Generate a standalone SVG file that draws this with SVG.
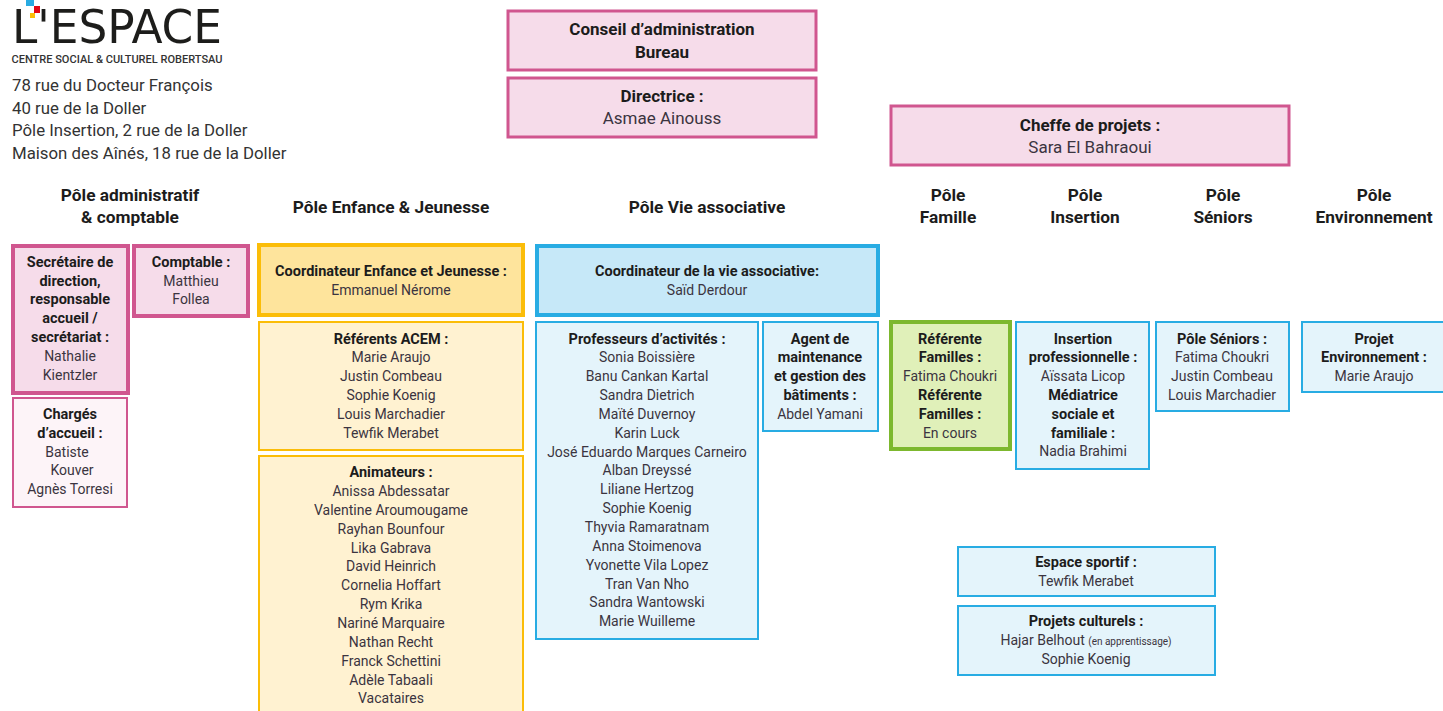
<svg xmlns="http://www.w3.org/2000/svg" width="1443" height="711" viewBox="0 0 1443 711">
<style>
text{font-family:Roboto,"Liberation Sans",sans-serif;text-anchor:middle;font-size:14px;fill:#3b3440}
.b{font-weight:bold;fill:#1c1c1c;font-size:14.5px}
.h{font-weight:bold;font-size:17.3px;fill:#1c1c1c}
.t{font-size:17px}
.addr{text-anchor:start;font-size:16.8px;fill:#333}
.pk{fill:#f6dcea;stroke:#d0568f;stroke-width:3}
.pkT{fill:#f6dcea;stroke:#d0568f;stroke-width:4}
.pkL{fill:#fdf4f8;stroke:#d0568f;stroke-width:2}
.orT{fill:#fee49c;stroke:#fbbd08;stroke-width:4}
.or{fill:#fff2d1;stroke:#fbbd08;stroke-width:2}
.blT{fill:#c6e8f8;stroke:#28ace3;stroke-width:4}
.bl{fill:#e4f4fb;stroke:#28ace3;stroke-width:2}
.gr{fill:#e0f0b9;stroke:#7db82e;stroke-width:4}
.sm{font-size:10px}
</style>
<rect width="1443" height="711" fill="#ffffff"/>
<g id="logo">
<text x="117" y="43" style="font-family:'DejaVu Sans Condensed','DejaVu Sans',sans-serif;font-size:46px;font-weight:normal;fill:#1d1d1b" textLength="210" lengthAdjust="spacingAndGlyphs">L'ESPACE</text>
<rect x="26" y="0" width="8" height="6" fill="#29abe2"/>
<rect x="34" y="6" width="6" height="7" fill="#e30613"/>
<rect x="30" y="13" width="5" height="5" fill="#fbbd08"/>
<text x="117" y="63" style="font-size:10.5px;fill:#333;font-weight:500" textLength="211" lengthAdjust="spacingAndGlyphs">CENTRE SOCIAL &amp; CULTUREL ROBERTSAU</text>
</g>
<g id="adresses">
<text class="addr" x="12" y="91">78 rue du Docteur François</text>
<text class="addr" x="12" y="114">40 rue de la Doller</text>
<text class="addr" x="12" y="136">Pôle Insertion, 2 rue de la Doller</text>
<text class="addr" x="12" y="159">Maison des Aînés, 18 rue de la Doller</text>
</g>
<g id="connectors"></g>
<g id="conseil">
<rect class="pk" x="508" y="11" width="308" height="59"/>
<text class="b t" x="662" y="35">Conseil d’administration</text>
<text class="b t" x="662" y="58">Bureau</text>
</g>
<g id="directrice">
<rect class="pk" x="508" y="78" width="308" height="59"/>
<text class="b t" x="662" y="102">Directrice :</text>
<text class="t" x="662" y="124">Asmae Ainouss</text>
</g>
<g id="cheffe">
<rect class="pk" x="891" y="106" width="398" height="59"/>
<text class="b t" x="1090" y="131">Cheffe de projets :</text>
<text class="t" x="1090" y="153">Sara El Bahraoui</text>
</g>
<g id="titres">
<text class="h" x="130" y="201">Pôle administratif</text>
<text class="h" x="130" y="223">&amp; comptable</text>
<text class="h" x="391" y="213">Pôle Enfance &amp; Jeunesse</text>
<text class="h" x="707" y="213">Pôle Vie associative</text>
<text class="h" x="948" y="201">Pôle</text>
<text class="h" x="948" y="223">Famille</text>
<text class="h" x="1085" y="201">Pôle</text>
<text class="h" x="1085" y="223">Insertion</text>
<text class="h" x="1223" y="201">Pôle</text>
<text class="h" x="1223" y="223">Séniors</text>
<text class="h" x="1374" y="201">Pôle</text>
<text class="h" x="1374" y="223">Environnement</text>
</g>
<g id="secretaire">
<rect class="pkT" x="13" y="246" width="115" height="147"/>
<text class="b" x="70" y="267">Secrétaire de</text>
<text class="b" x="70" y="286">direction,</text>
<text class="b" x="70" y="304">responsable</text>
<text class="b" x="70" y="323">accueil /</text>
<text class="b" x="70" y="342">secrétariat :</text>
<text x="70" y="361">Nathalie</text>
<text x="70" y="380">Kientzler</text>
</g>
<g id="comptable">
<rect class="pkT" x="134" y="246" width="114" height="70"/>
<text class="b" x="191" y="267">Comptable :</text>
<text x="191" y="286">Matthieu</text>
<text x="191" y="304">Follea</text>
</g>
<g id="charges-accueil">
<rect class="pkL" x="13" y="398" width="114" height="109"/>
<text class="b" x="70" y="419">Chargés</text>
<text class="b" x="70" y="438">d’accueil :</text>
<text x="67" y="457">Batiste</text>
<text x="72" y="475">Kouver</text>
<text x="70" y="494">Agnès Torresi</text>
</g>
<g id="coord-enfance">
<rect class="orT" x="259" y="245" width="264" height="70"/>
<text class="b" x="391" y="276">Coordinateur Enfance et Jeunesse :</text>
<text x="391" y="295">Emmanuel Nérome</text>
</g>
<g id="referents-acem">
<rect class="or" x="259" y="322" width="264" height="128"/>
<text class="b" x="391" y="344">Référents ACEM :</text>
<text x="391" y="362">Marie Araujo</text>
<text x="391" y="381">Justin Combeau</text>
<text x="391" y="400">Sophie Koenig</text>
<text x="391" y="419">Louis Marchadier</text>
<text x="391" y="438">Tewfik Merabet</text>
</g>
<g id="animateurs">
<rect class="or" x="259" y="456" width="264" height="270"/>
<text class="b" x="391" y="477">Animateurs :</text>
<text x="391" y="496">Anissa Abdessatar</text>
<text x="391" y="515">Valentine Aroumougame</text>
<text x="391" y="534">Rayhan Bounfour</text>
<text x="391" y="553">Lika Gabrava</text>
<text x="391" y="571">David Heinrich</text>
<text x="391" y="590">Cornelia Hoffart</text>
<text x="391" y="609">Rym Krika</text>
<text x="391" y="628">Nariné Marquaire</text>
<text x="391" y="647">Nathan Recht</text>
<text x="391" y="666">Franck Schettini</text>
<text x="391" y="685">Adèle Tabaali</text>
<text x="391" y="703">Vacataires</text>
</g>
<g id="coord-vie-asso">
<rect class="blT" x="537" y="246" width="341" height="69"/>
<text class="b" x="707" y="276">Coordinateur de la vie associative:</text>
<text x="707" y="295">Saïd Derdour</text>
</g>
<g id="professeurs">
<rect class="bl" x="536" y="322" width="222" height="317"/>
<text class="b" x="647" y="344">Professeurs d’activités :</text>
<text x="647" y="362">Sonia Boissière</text>
<text x="647" y="381">Banu Cankan Kartal</text>
<text x="647" y="400">Sandra Dietrich</text>
<text x="647" y="419">Maïté Duvernoy</text>
<text x="647" y="438">Karin Luck</text>
<text x="647" y="457">José Eduardo Marques Carneiro</text>
<text x="647" y="475">Alban Dreyssé</text>
<text x="647" y="494">Liliane Hertzog</text>
<text x="647" y="513">Sophie Koenig</text>
<text x="647" y="532">Thyvia Ramaratnam</text>
<text x="647" y="551">Anna Stoimenova</text>
<text x="647" y="570">Yvonette Vila Lopez</text>
<text x="647" y="589">Tran Van Nho</text>
<text x="647" y="607">Sandra Wantowski</text>
<text x="647" y="626">Marie Wuilleme</text>
</g>
<g id="agent-maintenance">
<rect class="bl" x="763" y="322" width="115" height="109"/>
<text class="b" x="820" y="344">Agent de</text>
<text class="b" x="820" y="362">maintenance</text>
<text class="b" x="820" y="381">et gestion des</text>
<text class="b" x="820" y="400">bâtiments :</text>
<text x="820" y="419">Abdel Yamani</text>
</g>
<g id="referente-familles">
<rect class="gr" x="891" y="322" width="119" height="127"/>
<text class="b" x="950" y="344">Référente</text>
<text class="b" x="950" y="362">Familles :</text>
<text x="950" y="381">Fatima Choukri</text>
<text class="b" x="950" y="400">Référente</text>
<text class="b" x="950" y="419">Familles :</text>
<text x="950" y="438">En cours</text>
</g>
<g id="insertion">
<rect class="bl" x="1016" y="322" width="133" height="147"/>
<text class="b" x="1083" y="344">Insertion</text>
<text class="b" x="1083" y="362">professionnelle :</text>
<text x="1083" y="381">Aïssata Licop</text>
<text class="b" x="1083" y="400">Médiatrice</text>
<text class="b" x="1083" y="419">sociale et</text>
<text class="b" x="1083" y="438">familiale :</text>
<text x="1083" y="456">Nadia Brahimi</text>
</g>
<g id="seniors">
<rect class="bl" x="1156" y="322" width="133" height="89"/>
<text class="b" x="1222" y="344">Pôle Séniors :</text>
<text x="1222" y="362">Fatima Choukri</text>
<text x="1222" y="381">Justin Combeau</text>
<text x="1222" y="400">Louis Marchadier</text>
</g>
<g id="environnement">
<rect class="bl" x="1302" y="322" width="150" height="70"/>
<text class="b" x="1374" y="344">Projet</text>
<text class="b" x="1374" y="362">Environnement :</text>
<text x="1374" y="381">Marie Araujo</text>
</g>
<g id="espace-sportif">
<rect class="bl" x="958" y="547" width="257" height="49"/>
<text class="b" x="1086" y="567">Espace sportif :</text>
<text x="1086" y="586">Tewfik Merabet</text>
</g>
<g id="projets-culturels">
<rect class="bl" x="958" y="606" width="257" height="69"/>
<text class="b" x="1086" y="626">Projets culturels :</text>
<text x="1086" y="645">Hajar Belhout <tspan class="sm">(en apprentissage)</tspan></text>
<text x="1086" y="664">Sophie Koenig</text>
</g>
</svg>
